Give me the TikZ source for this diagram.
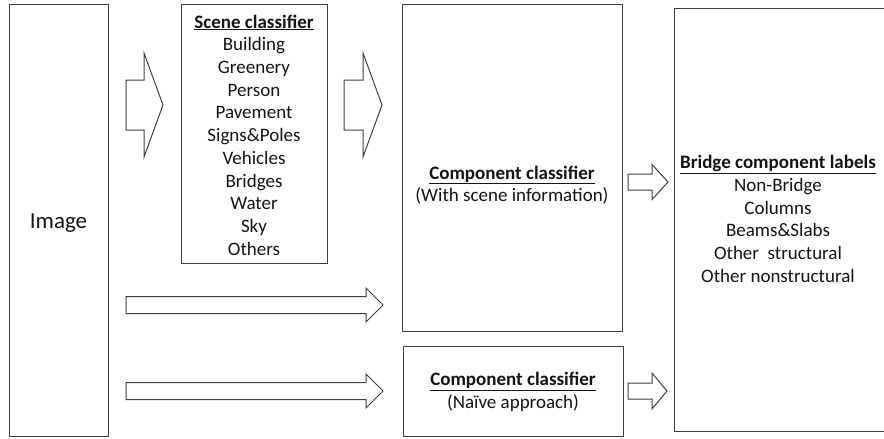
\documentclass[tikz,border=0pt]{standalone}
\usepackage{fontspec}
\setmainfont{Carlito}
\usetikzlibrary{calc, positioning}
\definecolor{boxgray}{RGB}{64, 64, 64}
\definecolor{textgray}{RGB}{20, 20, 20}

% block arrow: start, tip, body half, head half, head length
\newcommand{\blockarrow}[5]{%
  \draw[fat arrow] ($(#1)+(0,#3)$) -- ($(#2)+(-#5,#3)$) -- ($(#2)+(-#5,#4)$) -- (#2)
    -- ($(#2)+(-#5,-#4)$) -- ($(#2)+(-#5,-#3)$) -- ($(#1)+(0,-#3)$) -- cycle;}

\begin{document}
\begin{tikzpicture}[
    x=1pt, y=-1pt,
    box/.style={draw=boxgray, line width=1pt, rectangle, inner sep=0pt},
    fat arrow/.style={draw=boxgray, line width=1pt, line join=miter, fill=white},
    label text/.style={align=center, text=textgray, font=\fontsize{19}{22.7}\selectfont}
]
\useasboundingbox (0,0) rectangle (884,439);

% Boxes
\node[box, minimum width=99pt, minimum height=432pt] (image) at (58.5,220) {};
\node[box, minimum width=146pt, minimum height=259pt] (scene) at (254,133.5) {};
\node[box, minimum width=220pt, minimum height=327pt] (compscene) at (512,167.5) {};
\node[box, minimum width=220pt, minimum height=90pt] (compnaive) at (513,391) {};
\node[box, minimum width=230pt, minimum height=423pt] (bridge) at (789,219.5) {};

% Texts
\node[label text, font=\fontsize{23}{27}\selectfont] (imagetext) at (58.5,223) {Image};
\node[label text] (scenetext) at (254,135) {\textbf{\underline{Scene classifier}}\\
    Building\\ Greenery\\ Person\\ Pavement\\ Signs\&Poles\\ Vehicles\\ Bridges\\ Water\\ Sky\\ Others};
\node[label text] (compscenetext) at (512,185) {\textbf{\underline{Component classifier}}\\ (With scene information)};
\node[label text] (compnaivetext) at (513,392) {\textbf{\underline{Component classifier}}\\ (Naïve approach)};
\node[label text] (bridgetext) at (778,219) {\textbf{\underline{Bridge component labels}}\\
    Non-Bridge\\ Columns\\ Beams\&Slabs\\ Other\ \ structural\\ Other nonstructural};

% Arrow ends
\coordinate (imgscene s) at (126,105);
\coordinate (imgscene e) at (163,105);
\coordinate (scenecomp s) at (344,105);
\coordinate (scenecomp e) at (382,105);
\coordinate (imgcomp s) at (126,305);
\coordinate (imgcomp e) at (383,305);
\coordinate (imgnaive s) at (126,391);
\coordinate (imgnaive e) at (383,391);
\coordinate (compbridge s) at (628,182);
\coordinate (compbridge e) at (668,182);
\coordinate (naivebridge s) at (628,391);
\coordinate (naivebridge e) at (667,391);

% Arrows
\blockarrow{imgscene s}{imgscene e}{25}{52}{19}
\blockarrow{scenecomp s}{scenecomp e}{25}{52}{19}
\blockarrow{imgcomp s}{imgcomp e}{8.5}{17}{17}
\blockarrow{imgnaive s}{imgnaive e}{8.5}{17}{17}
\blockarrow{compbridge s}{compbridge e}{8}{17.5}{16}
\blockarrow{naivebridge s}{naivebridge e}{8}{18}{15}

\end{tikzpicture}
\end{document}
